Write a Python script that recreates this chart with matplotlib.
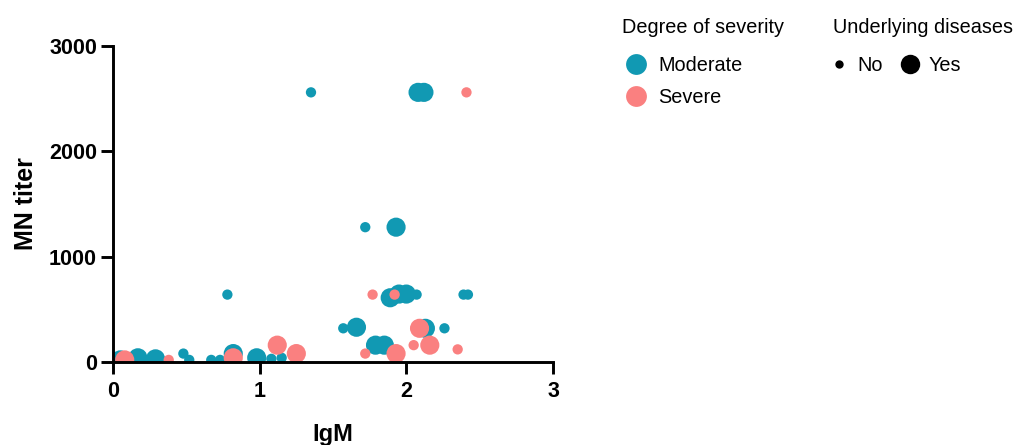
import matplotlib
matplotlib.use("Agg")
import matplotlib.pyplot as plt
from matplotlib.lines import Line2D

plt.rcParams['font.family'] = ['Liberation Sans', 'DejaVu Sans']

# Moderate cases: IgM, MN titer, underlying disease (1 = yes)
mod_igm = [0.05, 0.17, 0.29, 0.48, 0.52, 0.67, 0.73, 0.82, 0.98, 1.08, 1.15,
           0.78, 1.35, 2.08, 2.12, 1.72, 1.93, 1.89, 1.95, 2.00, 2.07, 2.39,
           2.42, 1.57, 1.66, 2.13, 2.26, 1.79, 1.85]
mod_mn = [20, 40, 30, 80, 20, 20, 20, 80, 40, 30, 40,
          640, 2560, 2560, 2560, 1280, 1280, 610, 645, 645, 640, 640,
          640, 320, 330, 320, 320, 160, 160]
mod_ud = [1, 1, 1, 0, 0, 0, 0, 1, 1, 0, 0,
          0, 0, 1, 1, 0, 1, 1, 1, 1, 0, 0,
          0, 0, 1, 1, 0, 1, 1]

# Severe cases
sev_igm = [0.08, 0.38, 0.82, 1.12, 1.25, 1.77, 1.92, 2.09, 1.72, 1.93,
           2.05, 2.16, 2.35, 2.41]
sev_mn = [20, 20, 40, 160, 80, 640, 640, 320, 80, 80,
          160, 160, 120, 2560]
sev_ud = [1, 0, 1, 1, 1, 0, 0, 1, 0, 1,
          0, 1, 0, 0]

teal = '#1199b3'
pink = '#fa8080'
small_s, big_s = 55, 190

fig = plt.figure(figsize=(10.16, 4.45), dpi=100)
ax = fig.add_axes([0.1112, 0.1865, 0.4331, 0.7101])

ax.scatter(mod_igm, mod_mn, s=[big_s if u else small_s for u in mod_ud],
           color=teal, linewidths=0, zorder=2)
ax.scatter(sev_igm, sev_mn, s=[big_s if u else small_s for u in sev_ud],
           color=pink, linewidths=0, zorder=3)

ax.set_xlim(0, 3)
ax.set_ylim(0, 3000)
ax.set_xticks([0, 1, 2, 3])
ax.set_yticks([0, 1000, 2000, 3000])
for side in ['top', 'right']:
    ax.spines[side].set_visible(False)
for side in ['left', 'bottom']:
    ax.spines[side].set_linewidth(2.1)
    ax.spines[side].set_zorder(4)
ax.tick_params(width=2.1, length=8.5, labelsize=15.5, pad=3)
ax.tick_params(axis='x', pad=5)
for lab in ax.get_xticklabels() + ax.get_yticklabels():
    lab.set_fontweight('bold')
ax.set_xlabel('IgM', fontsize=17, fontweight='bold', labelpad=15)
ax.set_ylabel('MN titer', fontsize=18, fontweight='bold', labelpad=8)

sev_handles = [Line2D([], [], ls='', marker='o', ms=15, color=teal, mec='none', label='Moderate'),
               Line2D([], [], ls='', marker='o', ms=15, color=pink, mec='none', label='Severe')]
leg1 = fig.legend(handles=sev_handles, title='Degree of severity', loc='upper left',
                  bbox_to_anchor=(0.602, 0.982), frameon=False, fontsize=14.3,
                  title_fontsize=14.3, alignment='left', borderpad=0,
                  handletextpad=0.4, labelspacing=0.62, handlelength=1.45)
leg1._legend_box.sep = 14

ud_handles = [Line2D([], [], ls='', marker='o', ms=6, color='black', mec='none', label='No'),
              Line2D([], [], ls='', marker='o', ms=14, color='black', mec='none', label='Yes')]
leg2 = fig.legend(handles=ud_handles, title='Underlying diseases', loc='upper left',
                  bbox_to_anchor=(0.810, 0.982), frameon=False, fontsize=14.3,
                  title_fontsize=14.3, alignment='left', borderpad=0, ncol=2,
                  handletextpad=0.65, columnspacing=1.05, handlelength=0.6)
leg2._legend_box.sep = 14

fig.savefig('out.png', dpi=100)
